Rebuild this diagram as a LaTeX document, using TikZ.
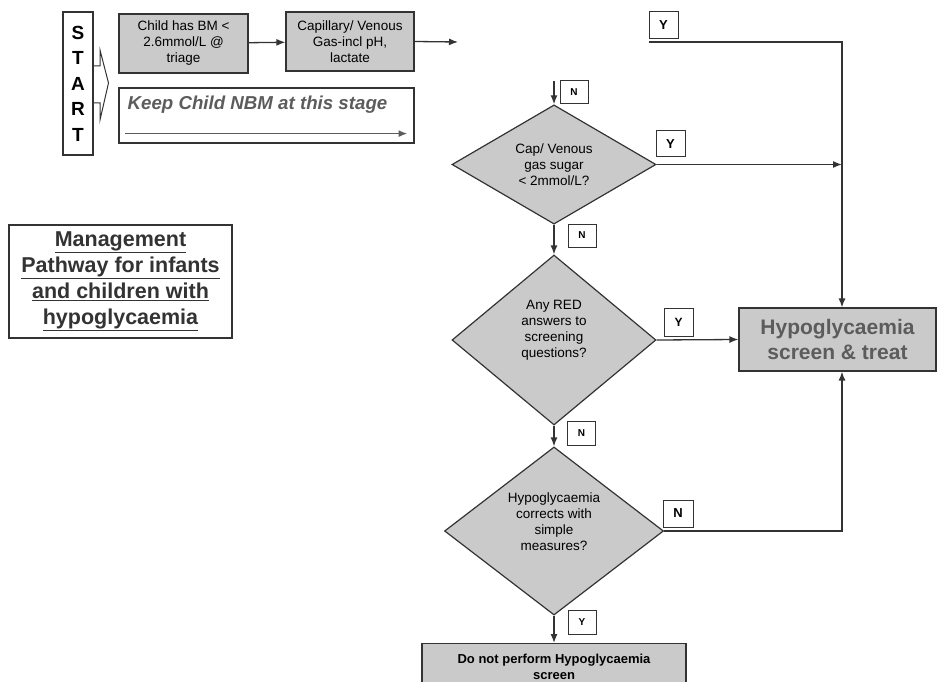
\documentclass[tikz,border=0pt]{standalone}
\usepackage{fontspec}
\setmainfont{Liberation Sans}
\usepackage{xcolor}
\usetikzlibrary{arrows.meta,positioning,calc,shapes.geometric}

\definecolor{boxgray}{HTML}{CACACA}
\definecolor{linegray}{HTML}{333333}
\definecolor{textgray}{HTML}{5C5C5C}

\begin{document}
\begin{tikzpicture}[x=1pt, y=-1pt, >={Latex[length=9pt,width=7pt]}]
  \tikzstyle{stepbox}=[rectangle, draw=linegray, line width=1.2pt, fill=boxgray, align=center, inner sep=2pt, font=\fontsize{13.5}{16}\selectfont]
  \tikzstyle{question}=[diamond, draw=linegray, line width=1.2pt, fill=boxgray, align=center, inner sep=0pt, font=\fontsize{13.5}{16}\selectfont]
  \tikzstyle{yn}=[rectangle, draw=linegray, line width=1pt, fill=white, inner sep=0pt, font=\bfseries]
  \tikzstyle{flow}=[draw=linegray, line width=1.3pt]
  \useasboundingbox (0,0) rectangle (937,682);

  % start column and first steps
  \node[rectangle, draw=linegray, line width=1.2pt, minimum width=30, minimum height=143, inner sep=0pt, align=center,
        font=\fontsize{19}{25.5}\selectfont\bfseries] (start) at (78,83.5) {S\\T\\A\\R\\T};
  \draw[flow, line width=1pt] (93,66) -- (100,66) -- (100,50) -- (108.5,83) -- (100,120) -- (100,103) -- (93,103);
  \node[stepbox, minimum width=129, minimum height=59] (bm) at (183.5,43.5) {Child has BM <\\2.6mmol/L @\\triage};
  \node[stepbox, minimum width=128, minimum height=59] (gas) at (350,41.5) {Capillary/ Venous\\Gas-incl pH,\\lactate};
  \coordinate (gasout) at (458,42);
  \draw[flow, ->] (bm) -- (gas);
  \draw[flow, ->] (gas.east) -- (gasout);

  \node[rectangle, draw=linegray, line width=1.2pt, minimum width=295, minimum height=55] (keep) at (266.5,115.5) {};
  \node[anchor=west, inner sep=0pt, text=textgray, font=\fontsize{18.7}{20}\selectfont\bfseries\itshape] (keeptxt) at ($(keep.north west)+(9,17)$) {Keep Child NBM at this stage};
  \coordinate (keepa) at ($(keep.south west)+(7,-10)$);
  \coordinate (keepb) at ($(keep.south east)+(-7,-10)$);
  \draw[draw=textgray, line width=1.8pt, ->] (keepa) -- (keepb);

  % title
  \node[rectangle, draw=linegray, line width=1.2pt, minimum width=223, minimum height=113, align=center,
        font=\fontsize{21.5}{26}\selectfont\bfseries, text=linegray] (title) at (120.5,281.5)
        {\underline{Management}\\\underline{Pathway for infants}\\\underline{and children with}\\\underline{hypoglycaemia}};

  % decisions
  \coordinate (nin) at (554,81);
  \node[yn, minimum width=28, minimum height=23, font=\fontsize{10}{12}\selectfont\bfseries] (n0) at (574,92.5) {N};
  \node[question, minimum width=204, minimum height=107] (d1) at (554,164.5) {Cap/ Venous\\gas sugar\\< 2mmol/L?};
  \node[yn, minimum width=29, minimum height=26, font=\fontsize{13}{14}\selectfont\bfseries] (y1) at (670.5,144) {Y};
  \node[yn, minimum width=28, minimum height=23, font=\fontsize{10}{12}\selectfont\bfseries] (n1) at (582,235.5) {N};
  \node[question, minimum width=204, minimum height=170] (d2) at (554,340) {Any RED\\answers to\\screening\\questions?\\[6pt]};
  \node[yn, minimum width=29, minimum height=28, font=\fontsize{12}{14}\selectfont\bfseries] (y2) at (678.5,322) {Y};
  \node[yn, minimum width=28, minimum height=24, font=\fontsize{10}{12}\selectfont\bfseries] (n2) at (581.5,433.5) {N};
  \node[question, minimum width=219, minimum height=168] (d3) at (554,531) {Hypoglycaemia\\corrects with\\simple\\measures?\\[2pt]};
  \node[yn, minimum width=30, minimum height=27, font=\fontsize{13}{14}\selectfont\bfseries] (n3) at (678,513.5) {N};
  \node[yn, minimum width=28, minimum height=24, font=\fontsize{10}{12}\selectfont\bfseries] (y3) at (582,622) {Y};
  \node[stepbox, minimum width=264, minimum height=46, font=\fontsize{13}{16}\selectfont\bfseries, anchor=north] (final) at (554,643) {Do not perform Hypoglycaemia\\screen};

  % outcome
  \node[stepbox, minimum width=197, minimum height=63, text=textgray, font=\fontsize{21}{25}\selectfont\bfseries] (hypo) at (837.5,339.5) {Hypoglycaemia\\screen \& treat};
  \node[yn, minimum width=29, minimum height=27, font=\fontsize{13}{14}\selectfont\bfseries] (ytop) at (663.5,25.5) {Y};
  \coordinate (yline) at (649,42);
  \coordinate (vline) at (842,42);

  \draw[flow, ->] (nin) -- (d1.north);
  \draw[flow, ->] (d1.south) -- (d2.north);
  \draw[flow, ->] (d2.south) -- (d3.north);
  \draw[flow, ->] (d3.south) -- (final.north);
  \draw[flow, ->] (yline) -- (vline) -- (vline |- hypo.north);
  \draw[flow, ->] (d1.east) -- (d1.east -| vline);
  \draw[flow, ->] (d2.east) -- (hypo.west);
  \draw[flow, ->] (d3.east) -| (vline |- hypo.south);
\end{tikzpicture}
\end{document}
